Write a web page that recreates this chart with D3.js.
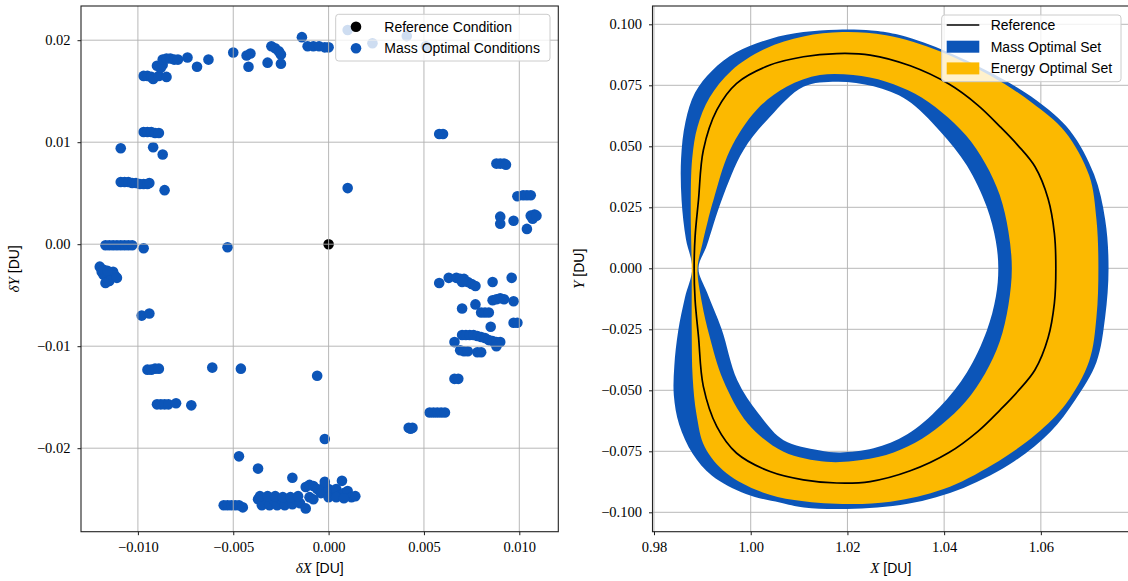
<!DOCTYPE html>
<html>
<head>
<meta charset="utf-8">
<script src="https://cdn.jsdelivr.net/npm/d3@7"></script>
<style>
body { margin: 0; background: #fff; }
svg { display: block; }
.tick text { font-family: "Liberation Serif", serif; font-size: 14.5px; fill: #000; }
.lbl { font-family: "Liberation Sans", sans-serif; font-size: 14px; fill: #000; }
</style>
</head>
<body>
<svg id="chart" width="1128" height="581"></svg>
<script>
// ---------- data ----------
// left panel: initial-condition offsets [dX, dY]
const refCondition = [[0.0, 0.0]];
const massConditions = [
  [-0.0109, 0.0094],
  [-0.0109, 0.0061], [-0.0107, 0.0061], [-0.0105, 0.0061], [-0.0103, 0.0060], [-0.0101, 0.0060],
  [-0.0099, 0.0059], [-0.0097, 0.0059], [-0.0095, 0.0059], [-0.0094, 0.0060],
  [-0.0086, 0.0053], [-0.0092, 0.0095], [-0.0087, 0.0088],
  [-0.0097, 0.0110], [-0.0095, 0.0110], [-0.0093, 0.0110], [-0.0091, 0.0109], [-0.0089, 0.0109],
  [-0.0097, 0.0165], [-0.0095, 0.0165], [-0.0093, 0.0164], [-0.0092, 0.0162], [-0.0089, 0.0165], [-0.0085, 0.0164],
  [-0.0090, 0.0175], [-0.0088, 0.0173], [-0.0087, 0.0176],
  [-0.0087, 0.0181], [-0.0085, 0.0182], [-0.0083, 0.0182], [-0.0081, 0.0181], [-0.0079, 0.0181],
  [-0.0074, 0.0183], [-0.0069, 0.0174], [-0.0063, 0.0181], [-0.0050, 0.0188], [-0.0043, 0.0185],
  [-0.0041, 0.0187], [-0.0042, 0.0174], [-0.0032, 0.0178], [-0.0030, 0.0194], [-0.0028, 0.0192],
  [-0.0026, 0.0189], [-0.0025, 0.0186], [-0.0025, 0.0177], [-0.0014, 0.0203],
  [-0.0011, 0.0194], [-0.0008, 0.0194], [-0.0005, 0.0194], [-0.0002, 0.0193], [0.0000, 0.0193],
  [0.0010, 0.0210], [0.0023, 0.0197], [0.0041, 0.0204], [0.0051, 0.0194],
  [0.0010, 0.0055], [0.0058, 0.0108], [0.0060, 0.0108],
  [0.0088, 0.0079], [0.0090, 0.0079], [0.0092, 0.0079], [0.0093, 0.0078],
  [0.0099, 0.0047], [0.0102, 0.0048], [0.0104, 0.0048], [0.0106, 0.0048],
  [0.0090, 0.0027], [0.0090, 0.0020], [0.0097, 0.0023], [0.0106, 0.0028], [0.0108, 0.0029],
  [0.0107, 0.0025], [0.0109, 0.0028], [0.0104, 0.0015],
  [0.0058, -0.0038], [0.0063, -0.0033], [0.0067, -0.0033], [0.0069, -0.0034], [0.0071, -0.0034],
  [0.0073, -0.0037], [0.0075, -0.0039], [0.0077, -0.0041], [0.0070, -0.0037],
  [0.0086, -0.0037], [0.0096, -0.0033],
  [0.0086, -0.0055], [0.0088, -0.0054], [0.0090, -0.0053], [0.0092, -0.0054], [0.0097, -0.0056],
  [0.0070, -0.0063], [0.0077, -0.0059],
  [0.0080, -0.0067], [0.0082, -0.0067], [0.0084, -0.0067],
  [0.0097, -0.0077], [0.0099, -0.0077], [0.0085, -0.0081],
  [0.0070, -0.0089], [0.0072, -0.0089], [0.0074, -0.0089], [0.0076, -0.0089], [0.0078, -0.0090],
  [0.0080, -0.0091], [0.0082, -0.0092], [0.0084, -0.0094], [0.0086, -0.0095], [0.0088, -0.0096], [0.0090, -0.0096],
  [0.0066, -0.0096],
  [0.0069, -0.0104], [0.0071, -0.0105], [0.0073, -0.0105], [0.0078, -0.0106], [0.0080, -0.0106],
  [0.0088, -0.0100], [0.0066, -0.0132], [0.0068, -0.0132],
  [-0.0117, -0.0001], [-0.0115, -0.0001], [-0.0113, -0.0001], [-0.0111, -0.0001],
  [-0.0109, -0.0001], [-0.0107, -0.0001], [-0.0105, -0.0001], [-0.0103, -0.0001],
  [-0.0097, -0.0004], [-0.0053, -0.0003],
  [-0.0120, -0.0022], [-0.0119, -0.0027], [-0.0118, -0.0030], [-0.0116, -0.0032], [-0.0114, -0.0030],
  [-0.0113, -0.0027], [-0.0112, -0.0031], [-0.0115, -0.0036], [-0.0117, -0.0038], [-0.0111, -0.0033],
  [-0.0118, -0.0025], [-0.0116, -0.0026],
  [-0.0098, -0.0070], [-0.0094, -0.0068],
  [-0.0095, -0.0123], [-0.0093, -0.0123], [-0.0091, -0.0122], [-0.0089, -0.0122],
  [-0.0061, -0.0121], [-0.0046, -0.0122], [-0.0006, -0.0129],
  [-0.0090, -0.0157], [-0.0088, -0.0157], [-0.0086, -0.0157], [-0.0084, -0.0157], [-0.0080, -0.0156], [-0.0072, -0.0158],
  [0.0053, -0.0165], [0.0055, -0.0165], [0.0057, -0.0165], [0.0059, -0.0165], [0.0061, -0.0165],
  [0.0042, -0.0180], [0.0044, -0.0180], [0.0043, -0.0181],
  [-0.0002, -0.0191], [-0.0047, -0.0208], [-0.0037, -0.0220], [-0.0019, -0.0229],
  [-0.0055, -0.0256], [-0.0053, -0.0256], [-0.0051, -0.0256], [-0.0049, -0.0256], [-0.0047, -0.0256], [-0.0045, -0.0258],
  [-0.0037, -0.0250], [-0.0035, -0.0256], [-0.0033, -0.0250], [-0.0031, -0.0256], [-0.0029, -0.0250],
  [-0.0027, -0.0256], [-0.0025, -0.0250], [-0.0023, -0.0256], [-0.0021, -0.0250], [-0.0019, -0.0255],
  [-0.0017, -0.0250], [-0.0015, -0.0254],
  [-0.0036, -0.0247], [-0.0032, -0.0247], [-0.0028, -0.0247], [-0.0024, -0.0248], [-0.0020, -0.0248],
  [-0.0016, -0.0247], [-0.0012, -0.0259], [-0.0010, -0.0248],
  [-0.0012, -0.0238], [-0.0010, -0.0236], [-0.0008, -0.0237], [-0.0006, -0.0240], [-0.0004, -0.0244],
  [-0.0002, -0.0236], [0.0000, -0.0240], [0.0002, -0.0244], [0.0004, -0.0240], [0.0006, -0.0246],
  [0.0008, -0.0244], [0.0010, -0.0242], [0.0012, -0.0248], [0.0014, -0.0247], [0.0000, -0.0248],
  [0.0004, -0.0248], [0.0008, -0.0249], [-0.0008, -0.0250], [0.0007, -0.0232], [-0.0002, -0.0233]
];

// right panel: trajectories [X, Y], read around each closed curve
const referenceOrbit = [
  [0.9883, 0.0000], [0.9885, 0.0130], [0.9892, 0.0280], [0.9902, 0.0484], [0.9930, 0.0649],
  [0.9971, 0.0758], [1.0040, 0.0833], [1.0109, 0.0867], [1.0178, 0.0880], [1.0247, 0.0874],
  [1.0330, 0.0830], [1.0410, 0.0755], [1.0470, 0.0668], [1.0516, 0.0580], [1.0552, 0.0505],
  [1.0588, 0.0416], [1.0615, 0.0285], [1.0628, 0.0143], [1.0631, 0.0000],
  [1.0628, -0.0143], [1.0615, -0.0285], [1.0588, -0.0416], [1.0552, -0.0505], [1.0516, -0.0580],
  [1.0470, -0.0668], [1.0410, -0.0755], [1.0330, -0.0830], [1.0247, -0.0874], [1.0178, -0.0880],
  [1.0109, -0.0867], [1.0040, -0.0833], [0.9971, -0.0758], [0.9930, -0.0649], [0.9902, -0.0484],
  [0.9892, -0.0280], [0.9885, -0.0130]
];
const massOuter = [
  [0.9879, 0.0000], [0.9866, 0.0120], [0.9857, 0.0280], [0.9856, 0.0450], [0.9865, 0.0600],
  [0.9885, 0.0720], [0.9920, 0.0810], [0.9970, 0.0885], [1.0040, 0.0940], [1.0109, 0.0968],
  [1.0178, 0.0978], [1.0250, 0.0975], [1.0300, 0.0960], [1.0395, 0.0897], [1.0500, 0.0798],
  [1.0590, 0.0690], [1.0660, 0.0565], [1.0710, 0.0385], [1.0733, 0.0200], [1.0740, 0.0000],
  [1.0733, -0.0200], [1.0715, -0.0385], [1.0671, -0.0540], [1.0620, -0.0670], [1.0546, -0.0790],
  [1.0440, -0.0900], [1.0325, -0.0965], [1.0200, -0.0986], [1.0110, -0.0980], [1.0060, -0.0960],
  [0.9990, -0.0925], [0.9920, -0.0850], [0.9880, -0.0760], [0.9852, -0.0640], [0.9841, -0.0520],
  [0.9842, -0.0400], [0.9850, -0.0257], [0.9864, -0.0120]
];
const massInner = [
  [0.9892, 0.0000], [0.9909, 0.0092], [0.9940, 0.0280], [0.9985, 0.0484], [1.0040, 0.0621],
  [1.0109, 0.0744], [1.0178, 0.0765], [1.0254, 0.0746], [1.0323, 0.0690], [1.0391, 0.0563],
  [1.0447, 0.0421], [1.0488, 0.0252], [1.0507, 0.0110], [1.0512, 0.0000], [1.0507, -0.0116],
  [1.0488, -0.0257], [1.0447, -0.0427], [1.0391, -0.0568], [1.0323, -0.0681], [1.0254, -0.0738],
  [1.0185, -0.0755], [1.0141, -0.0746], [1.0068, -0.0705], [1.0016, -0.0595], [0.9972, -0.0458],
  [0.9940, -0.0250], [0.9910, -0.0100]
];
const energyOuter = [
  [0.9878, 0.0000], [0.9876, 0.0250], [0.9879, 0.0450], [0.9890, 0.0580], [0.9915, 0.0700],
  [0.9960, 0.0810], [1.0030, 0.0900], [1.0109, 0.0950], [1.0190, 0.0968], [1.0280, 0.0955],
  [1.0391, 0.0890], [1.0495, 0.0790], [1.0581, 0.0680], [1.0650, 0.0560], [1.0700, 0.0380],
  [1.0715, 0.0200], [1.0719, 0.0000], [1.0715, -0.0200], [1.0700, -0.0380], [1.0652, -0.0555],
  [1.0590, -0.0680], [1.0500, -0.0805], [1.0399, -0.0905], [1.0289, -0.0957], [1.0190, -0.0966],
  [1.0090, -0.0950], [1.0020, -0.0915], [0.9950, -0.0840], [0.9905, -0.0732], [0.9888, -0.0600],
  [0.9880, -0.0450], [0.9878, -0.0250]
];
const energyInner = [
  [0.9890, 0.0000], [0.9900, 0.0100], [0.9912, 0.0200], [0.9923, 0.0280], [0.9957, 0.0484],
  [1.0012, 0.0649], [1.0074, 0.0744], [1.0143, 0.0792], [1.0212, 0.0792], [1.0280, 0.0765],
  [1.0340, 0.0715], [1.0395, 0.0640], [1.0445, 0.0545], [1.0485, 0.0430], [1.0515, 0.0300],
  [1.0533, 0.0150], [1.0540, 0.0000], [1.0533, -0.0150], [1.0515, -0.0300], [1.0485, -0.0430],
  [1.0445, -0.0545], [1.0395, -0.0640], [1.0340, -0.0715], [1.0280, -0.0765], [1.0212, -0.0790],
  [1.0156, -0.0793], [1.0068, -0.0752], [0.9994, -0.0636], [0.9943, -0.0458], [0.9915, -0.0280],
  [0.9899, -0.0140]
];

// ticks and labels
const leftXTicks = [-0.010, -0.005, 0.000, 0.005, 0.010];
const leftYTicks = [-0.02, -0.01, 0.00, 0.01, 0.02];
const rightXTicks = [0.98, 1.00, 1.02, 1.04, 1.06];
const rightYTicks = [-0.100, -0.075, -0.050, -0.025, 0.000, 0.025, 0.050, 0.075, 0.100];
const leftLegend = ['Reference Condition', 'Mass Optimal Conditions'];
const rightLegend = ['Reference', 'Mass Optimal Set', 'Energy Optimal Set'];

// ---------- chart ----------
const blue = '#0c55b8';
const yellow = '#fcb900';
const gridColor = '#b0b0b0';
const svg = d3.select('#chart');

const boxL = { x0: 81, x1: 558.3, y0: 6, y1: 531.7 };
const boxR = { x0: 652.5, x1: 1129, y0: 6, y1: 531.7 };

const xL = d3.scaleLinear().domain([-0.012984, 0.012045]).range([boxL.x0, boxL.x1]);
const yL = d3.scaleLinear().domain([-0.028186, 0.023353]).range([boxL.y1, boxL.y0]);
const xR = d3.scaleLinear().domain([0.97969, 1.07823]).range([boxR.x0, boxR.x1]);
const yR = d3.scaleLinear().domain([-0.10795, 0.1075]).range([boxR.y1, boxR.y0]);

const defs = svg.append('defs');
[['clipL', boxL], ['clipR', boxR]].forEach(([id, b]) => {
  defs.append('clipPath').attr('id', id).append('rect')
    .attr('x', b.x0).attr('y', b.y0).attr('width', b.x1 - b.x0).attr('height', b.y1 - b.y0);
});

function grid(g, box, x, y, xt, yt) {
  g.selectAll('line.gx').data(xt).enter().append('line')
    .attr('x1', d => x(d)).attr('x2', d => x(d)).attr('y1', box.y0).attr('y2', box.y1)
    .attr('stroke', gridColor).attr('stroke-width', 0.9);
  g.selectAll('line.gy').data(yt).enter().append('line')
    .attr('y1', d => y(d)).attr('y2', d => y(d)).attr('x1', box.x0).attr('x2', box.x1)
    .attr('stroke', gridColor).attr('stroke-width', 0.9);
}

function axes(box, x, y, xt, yt, xf, yf) {
  const ax = svg.append('g').attr('transform', `translate(0,${box.y1})`)
    .call(d3.axisBottom(x).tickValues(xt).tickFormat(d3.format(xf)).tickSizeInner(3.5).tickSizeOuter(0).tickPadding(7));
  const ay = svg.append('g').attr('transform', `translate(${box.x0},0)`)
    .call(d3.axisLeft(y).tickValues(yt).tickFormat(d3.format(yf)).tickSizeInner(3.5).tickSizeOuter(0).tickPadding(7));
  [ax, ay].forEach(a => {
    a.select('.domain').remove();
    a.selectAll('.tick line').attr('stroke', '#000').attr('stroke-width', 0.9);
  });
  svg.append('rect')
    .attr('x', box.x0).attr('y', box.y0).attr('width', box.x1 - box.x0).attr('height', box.y1 - box.y0)
    .attr('fill', 'none').attr('stroke', '#222').attr('stroke-width', 1.1);
}

function axisTitle(xp, yp, rot, mathPart) {
  const t = svg.append('text')
    .attr('transform', `translate(${xp},${yp}) rotate(${rot})`)
    .attr('text-anchor', 'middle').attr('font-size', 15);
  t.append('tspan').attr('font-family', '"Liberation Serif", serif').attr('font-style', 'italic').text(mathPart);
  t.append('tspan').attr('font-family', '"Liberation Sans", sans-serif').attr('font-size', 14).text(' [DU]');
}

// ----- left panel -----
const gL = svg.append('g').attr('clip-path', 'url(#clipL)');
gL.selectAll('circle.mass').data(massConditions).enter().append('circle')
  .attr('cx', d => xL(d[0])).attr('cy', d => yL(d[1])).attr('r', 5.3).attr('fill', blue);
gL.selectAll('circle.ref').data(refCondition).enter().append('circle')
  .attr('cx', d => xL(d[0])).attr('cy', d => yL(d[1])).attr('r', 5.3).attr('fill', '#000');
grid(svg.append('g'), boxL, xL, yL, leftXTicks, leftYTicks);
axes(boxL, xL, yL, leftXTicks, leftYTicks, '.3f', '.2f');
axisTitle((boxL.x0 + boxL.x1) / 2, 573, 0, 'δX');
axisTitle(19, (boxL.y0 + boxL.y1) / 2, -90, 'δY');

// legend (left)
const legL = svg.append('g');
legL.append('rect').attr('x', 335.7).attr('y', 14.3).attr('width', 214.3).attr('height', 46.7).attr('rx', 3)
  .attr('fill', '#fff').attr('fill-opacity', 0.8).attr('stroke', '#cccccc').attr('stroke-width', 1);
leftLegend.forEach((name, i) => {
  const cy = 26.7 + i * 21.6;
  legL.append('circle').attr('cx', 356).attr('cy', cy).attr('r', 5.3).attr('fill', i === 0 ? '#000' : blue);
  legL.append('text').attr('class', 'lbl').attr('x', 384.3).attr('y', cy + 5).text(name);
});

// ----- right panel -----
grid(svg.append('g'), boxR, xR, yR, rightXTicks, rightYTicks);
const gR = svg.append('g').attr('clip-path', 'url(#clipR)');
const closed = d3.line().x(d => xR(d[0])).y(d => yR(d[1])).curve(d3.curveCatmullRomClosed.alpha(0.5));
gR.append('path').attr('d', closed(massOuter) + closed(massInner))
  .attr('fill', blue).attr('fill-rule', 'evenodd');
gR.append('path').attr('d', closed(energyOuter) + closed(energyInner))
  .attr('fill', yellow).attr('fill-rule', 'evenodd');
gR.append('path').attr('d', closed(referenceOrbit))
  .attr('fill', 'none').attr('stroke', '#000').attr('stroke-width', 1.7);
axes(boxR, xR, yR, rightXTicks, rightYTicks, '.2f', '.3f');
axisTitle((boxR.x0 + boxR.x1) / 2, 573, 0, 'X');
axisTitle(584, (boxR.y0 + boxR.y1) / 2, -90, 'Y');

// legend (right)
const legR = svg.append('g');
legR.append('rect').attr('x', 941.7).attr('y', 15).attr('width', 179.3).attr('height', 66.7).attr('rx', 3)
  .attr('fill', '#fff').attr('fill-opacity', 0.8).attr('stroke', '#cccccc').attr('stroke-width', 1);
rightLegend.forEach((name, i) => {
  const cy = 25 + i * 21.7;
  if (i === 0) {
    legR.append('line').attr('x1', 946.7).attr('x2', 979.3).attr('y1', cy).attr('y2', cy)
      .attr('stroke', '#000').attr('stroke-width', 1.7);
  } else {
    legR.append('rect').attr('x', 946.7).attr('y', cy - 6).attr('width', 32.6).attr('height', 12)
      .attr('fill', i === 1 ? blue : yellow);
  }
  legR.append('text').attr('class', 'lbl').attr('x', 990.7).attr('y', cy + 5).text(name);
});
</script>
</body>
</html>
